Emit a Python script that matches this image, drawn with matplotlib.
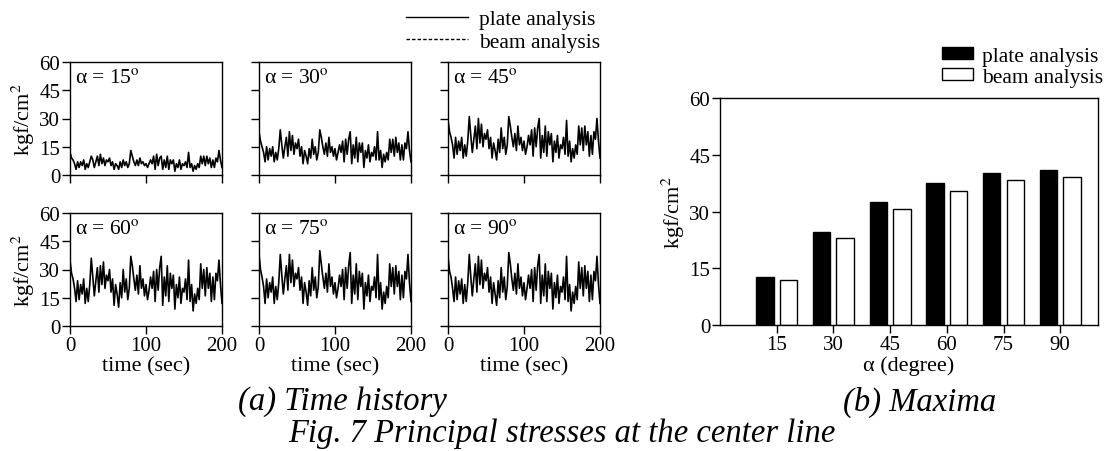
import numpy as np
import matplotlib
matplotlib.use("Agg")
import matplotlib.pyplot as plt
from matplotlib.lines import Line2D
from matplotlib.patches import Patch

plt.rcParams['font.family'] = ['Liberation Serif', 'DejaVu Serif']
plt.rcParams['mathtext.fontset'] = 'stix'

# ── time history (kgf/cm2), sampled every 2 sec over 0..200 sec ──
p15 = [12, 9, 8, 6, 3, 7, 4, 7, 5, 8, 3, 6, 4, 7, 10, 8, 4, 7, 10, 5,
       11, 6, 9, 5, 8, 7, 9, 5, 7, 3, 6, 5, 3, 7, 4, 8, 5, 7, 4, 6,
       13, 10, 7, 5, 8, 5, 9, 6, 7, 5, 6, 4, 6, 8, 6, 10, 3, 11, 5, 9,
       10, 3, 8, 4, 10, 3, 8, 6, 8, 2, 6, 4, 8, 3, 6, 5, 7, 4, 12, 4,
       6, 2, 5, 3, 6, 4, 10, 6, 10, 5, 10, 6, 9, 4, 8, 4, 9, 7, 13, 8, 4]
p30 = [23, 18, 15, 12, 7, 15, 8, 14, 10, 15, 7, 12, 8, 14, 24, 16, 9, 15, 20, 10,
       23, 13, 21, 11, 17, 14, 19, 10, 15, 6, 13, 10, 6, 14, 9, 19, 11, 15, 8, 12,
       24, 20, 15, 11, 17, 10, 20, 12, 15, 10, 14, 8, 12, 16, 12, 18, 7, 19, 11, 19,
       23, 6, 16, 9, 20, 7, 17, 12, 17, 4, 13, 9, 16, 7, 12, 10, 15, 8, 23, 8,
       13, 4, 11, 7, 12, 8, 19, 12, 19, 10, 20, 12, 17, 8, 16, 8, 17, 14, 23, 13, 7]
p45 = [29, 23, 20, 16, 9, 20, 11, 18, 13, 20, 9, 16, 10, 18, 31, 21, 12, 19, 26, 14,
       30, 17, 27, 15, 22, 19, 24, 14, 20, 9, 17, 13, 8, 19, 12, 25, 14, 20, 11, 16,
       31, 26, 20, 15, 22, 13, 26, 16, 20, 13, 18, 11, 15, 21, 16, 24, 10, 25, 15, 25,
       30, 9, 21, 12, 26, 10, 23, 16, 22, 7, 18, 12, 21, 9, 16, 14, 20, 11, 29, 10,
       18, 7, 14, 9, 16, 11, 26, 16, 25, 13, 26, 16, 23, 10, 21, 11, 23, 19, 30, 18, 9]
p60 = [35, 28, 25, 20, 13, 24, 14, 22, 17, 25, 12, 20, 13, 22, 36, 26, 16, 24, 31, 18,
       32, 22, 34, 20, 27, 24, 30, 18, 25, 11, 22, 17, 10, 23, 15, 30, 18, 25, 14, 20,
       37, 32, 25, 19, 27, 17, 32, 20, 25, 16, 22, 14, 19, 26, 20, 29, 13, 30, 19, 31,
       37, 11, 26, 16, 32, 13, 28, 20, 27, 9, 22, 15, 26, 12, 20, 18, 25, 14, 35, 13,
       22, 8, 17, 12, 20, 14, 33, 20, 30, 16, 31, 20, 28, 13, 26, 14, 28, 24, 35, 22, 12]
p75 = [38, 30, 26, 21, 12, 25, 15, 23, 18, 26, 12, 21, 14, 23, 38, 27, 17, 25, 32, 19,
       38, 23, 35, 21, 28, 25, 31, 19, 26, 12, 23, 18, 11, 24, 16, 31, 19, 26, 15, 21,
       40, 33, 26, 20, 28, 18, 33, 21, 26, 17, 23, 15, 20, 27, 21, 30, 14, 31, 20, 32,
       39, 12, 27, 17, 33, 14, 29, 21, 28, 9, 23, 16, 27, 13, 21, 19, 26, 15, 38, 14,
       23, 9, 18, 12, 21, 15, 33, 21, 31, 17, 32, 21, 29, 14, 27, 15, 29, 25, 38, 23, 13]
p90 = [37, 29, 26, 20, 13, 26, 14, 24, 17, 25, 12, 22, 13, 23, 38, 26, 16, 25, 33, 18,
       37, 22, 35, 20, 28, 24, 31, 18, 26, 12, 23, 17, 11, 24, 15, 31, 18, 26, 14, 21,
       39, 33, 25, 19, 28, 17, 33, 20, 26, 16, 23, 14, 20, 27, 20, 30, 13, 31, 19, 32,
       38, 12, 27, 16, 33, 13, 29, 20, 28, 9, 23, 15, 27, 12, 21, 18, 26, 14, 37, 13,
       22, 8, 18, 12, 21, 14, 34, 20, 31, 16, 32, 20, 29, 13, 27, 14, 29, 24, 37, 22, 12]

angles = [15, 30, 45, 60, 75, 90]
histories = [p15, p30, p45, p60, p75, p90]

# ── maxima ──
plate_max = [12.8, 24.7, 32.5, 37.5, 40.1, 41.0]
beam_max = [11.9, 23.0, 30.6, 35.5, 38.2, 39.2]

stress_ticks = [0, 15, 30, 45, 60]
time_ticks = [0, 100, 200]

W, H = 1106, 452
fig = plt.figure(figsize=(W / 100, H / 100), dpi=100)

TICK_FS = 15
LAB_FS = 16
LEG_FS = 15.5
CAP_FS = 23.5

col_left = [70, 259, 448]
row_top = [63, 214]
pw, ph = 152, 113

for k, (ang, hist) in enumerate(zip(angles, histories)):
    r, c = divmod(k, 3)
    ax = fig.add_axes([col_left[c] / W, 1 - (row_top[r] + ph) / H, pw / W, ph / H])
    t = np.linspace(0, 200, len(hist))
    ax.plot(t, hist, color='black', lw=1.2)
    ax.set_xlim(0, 200)
    ax.set_ylim(0, 60)
    ax.set_xticks(time_ticks)
    ax.set_yticks(stress_ticks)
    ax.tick_params(direction='out', length=6, width=1, labelsize=TICK_FS, pad=1)
    for sp in ax.spines.values():
        sp.set_linewidth(1)
    if r == 0:
        ax.set_xticklabels([])
    else:
        ax.set_xlabel('time (sec)', fontsize=LAB_FS, labelpad=1)
    if c == 0:
        ax.set_ylabel('kgf/cm$^2$', fontsize=16)
        ax.yaxis.set_label_coords(-0.215, 0.5)
    else:
        ax.set_yticklabels([])
    ax.text(0.03, 0.95, 'α = %d$^{\\rm o}$' % ang, transform=ax.transAxes,
            fontsize=15.5, va='top', ha='left')

# legend for time history
fig.legend(handles=[Line2D([], [], color='black', lw=1),
                    Line2D([], [], color='black', lw=1, ls=(0, (2.5, 1.5)))],
           labels=['plate analysis', 'beam analysis'],
           loc='upper left', bbox_to_anchor=(406 / W, 1 - 10 / H), frameon=False,
           fontsize=LEG_FS, handlelength=2.9, handletextpad=0.5, labelspacing=0.12,
           borderpad=0, borderaxespad=0)

# ── bar chart ──
axb = fig.add_axes([720 / W, 1 - 326 / H, 378 / W, 227 / H])
x = np.array(angles, dtype=float)
bw = 4.6
axb.bar(x - 3.1, plate_max, width=bw, color='black', edgecolor='black', lw=1)
axb.bar(x + 3.1, beam_max, width=bw, color='white', edgecolor='black', lw=1)
axb.set_xlim(0, 100)
axb.set_ylim(0, 60)
axb.set_xticks(angles)
axb.set_yticks(stress_ticks)
axb.tick_params(direction='out', length=6, width=1, labelsize=TICK_FS, pad=1)
for sp in axb.spines.values():
    sp.set_linewidth(1)
axb.set_xlabel('α (degree)', fontsize=LAB_FS, labelpad=1)
axb.set_ylabel('kgf/cm$^2$', fontsize=16)
axb.yaxis.set_label_coords(-0.088, 0.5)

fig.legend(handles=[Patch(facecolor='black', edgecolor='black'),
                    Patch(facecolor='white', edgecolor='black')],
           labels=['plate analysis', 'beam analysis'],
           loc='upper left', bbox_to_anchor=(942 / W, 1 - 48 / H), frameon=False,
           fontsize=LEG_FS, handlelength=1.45, handleheight=0.5, handletextpad=0.42,
           labelspacing=0.08, borderpad=0, borderaxespad=0)

# captions
fig.text(342 / W, 1 - 402 / H, '(a) Time history', fontsize=CAP_FS, style='italic',
         ha='center', va='center')
fig.text(920 / W, 1 - 402 / H, '(b) Maxima', fontsize=CAP_FS, style='italic',
         ha='center', va='center')
fig.text(562 / W, 1 - 434 / H, 'Fig. 7 Principal stresses at the center line',
         fontsize=CAP_FS, style='italic', ha='center', va='center')

fig.savefig('out.png', dpi=100)
